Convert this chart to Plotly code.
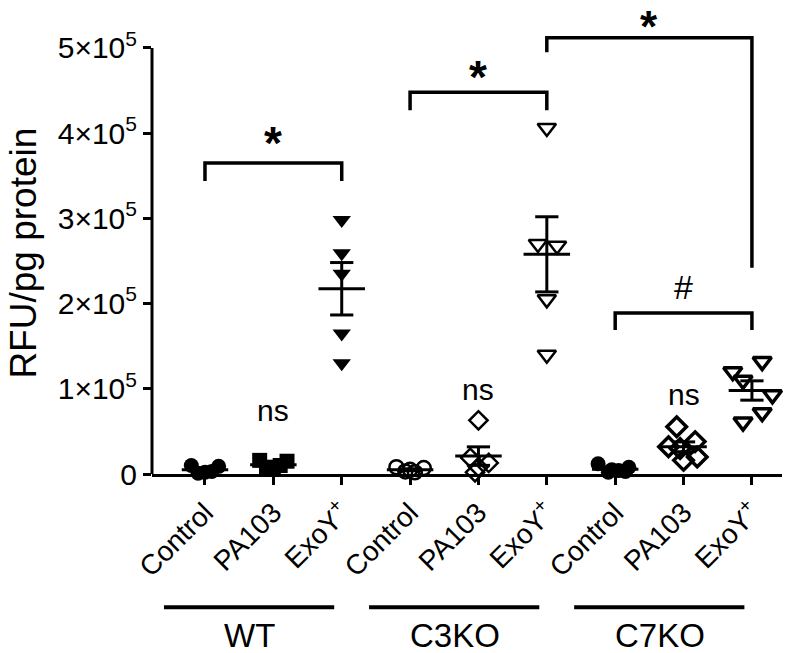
import numpy as np
import plotly.graph_objects as go

# ---------------- data ----------------
categories = ["Control", "PA103", "ExoY<sup>+</sup>"] * 3
groups = ["WT", "C3KO", "C7KO"]
y_tick_vals = [0, 100000, 200000, 300000, 400000, 500000]
y_tick_text = ["0", "1×10<sup>5</sup>", "2×10<sup>5</sup>", "3×10<sup>5</sup>",
               "4×10<sup>5</sup>", "5×10<sup>5</sup>"]

wt_control = [10000, 9000, 2000, 1000, 3000]
wt_pa103 = [16000, 15000, 8000, 6000, 10000]
wt_exoy = [298000, 259000, 235000, 165000, 130000]
c3_control = [8000, 7000, 3000, 2000, 5000]
c3_pa103 = [63000, 19000, 13000, 8000, 2000]
c3_exoy = [406000, 270000, 268000, 205000, 140000]
c7_control = [12000, 8000, 4000, 2000, 3000, 5000]
c7_pa103 = [55500, 38000, 32000, 30000, 20000, 16000]
c7_exoy = [132000, 120000, 110000, 93000, 72000, 61000]

series = [wt_control, wt_pa103, wt_exoy,
          c3_control, c3_pa103, c3_exoy,
          c7_control, c7_pa103, c7_exoy]

# ---------------- style ----------------
jitter = [
    [-0.2, 0.2, 0.0, -0.1, 0.1],
    [-0.2, 0.2, 0.0, -0.1, 0.1],
    [0, 0, 0, 0, 0],
    [-0.2, 0.2, -0.07, 0.07, 0.0],
    [0, -0.12, 0.15, 0.0, -0.05],
    [0, -0.13, 0.15, 0, 0],
    [-0.25, 0.2, 0.05, -0.1, 0.15, -0.05],
    [-0.1, 0.17, -0.22, -0.05, 0.2, 0.0],
    [0.15, -0.28, -0.13, 0.3, 0.15, -0.13],
]
symbols = ["circle", "square", "triangle-down",
           "circle-open", "diamond-open", "triangle-down-open",
           "circle", "diamond-open", "triangle-down-open"]
line_w = [0, 0, 0, 2.5, 2.5, 2.5, 0, 3.5, 3.5]
sizes = [15, 15, 16, 14, 14, 16, 15, 15, 16]

FONT = "Liberation Sans, Arial, sans-serif"
BLACK = "#000000"

fig = go.Figure()

for i, vals in enumerate(series):
    xs = [i + j for j in jitter[i]]
    fig.add_trace(go.Scatter(
        x=xs, y=vals, mode="markers", cliponaxis=False,
        marker=dict(symbol=symbols[i], size=sizes[i], color=BLACK,
                    line=dict(color=BLACK, width=line_w[i])),
        showlegend=False, hoverinfo="skip"))

shapes = []
LW = 3
for i, vals in enumerate(series):
    v = np.array(vals, dtype=float)
    m = v.mean()
    sem = v.std(ddof=1) / np.sqrt(len(v))
    shapes.append(dict(type="line", xref="x", yref="y", x0=i - 0.34, x1=i + 0.34,
                       y0=m, y1=m, line=dict(color=BLACK, width=LW)))
    shapes.append(dict(type="line", xref="x", yref="y", x0=i, x1=i,
                       y0=m - sem, y1=m + sem, line=dict(color=BLACK, width=LW)))
    for yy in (m - sem, m + sem):
        shapes.append(dict(type="line", xref="x", yref="y", x0=i - 0.17, x1=i + 0.17,
                           y0=yy, y1=yy, line=dict(color=BLACK, width=LW)))

# significance brackets: (x_left, x_right, y_top, y_leg_left, y_leg_right)
brackets = [
    (0, 2, 365000, 344000, 344000),
    (3, 5, 448000, 427000, 427000),
    (5, 8, 512000, 495000, 242000),
    (6, 8, 189000, 169000, 169000),
]
BW = 3.5
for xl, xr, yt, yl, yr in brackets:
    shapes.append(dict(type="path", xref="x", yref="y",
                       path=f"M {xl},{yl} L {xl},{yt} L {xr},{yt} L {xr},{yr}",
                       line=dict(color=BLACK, width=BW)))

# y axis line drawn from 0 to 5e5
shapes.append(dict(type="line", xref="paper", yref="y", x0=0, x1=0, y0=0, y1=500000,
                   line=dict(color=BLACK, width=3)))

# group underlines
for g in range(3):
    shapes.append(dict(type="line", xref="x", yref="paper",
                       x0=3 * g - 0.6, x1=3 * g + 2 - 0.11, y0=-0.281, y1=-0.281,
                       line=dict(color=BLACK, width=4)))

annotations = []
for x, y in [(1, 399000), (4, 477000)]:
    annotations.append(dict(x=x, y=y, xref="x", yref="y", text="<b>*</b>",
                            showarrow=False, font=dict(family=FONT, size=46, color=BLACK),
                            yanchor="middle", yshift=-9))
annotations.append(dict(x=6.5, y=1, xref="x", yref="paper", text="<b>*</b>",
                        showarrow=False, font=dict(family=FONT, size=44, color=BLACK),
                        yanchor="top"))
annotations.append(dict(x=7, y=219000, xref="x", yref="y", text="#", showarrow=False,
                        font=dict(family=FONT, size=34, color=BLACK), yanchor="middle"))
for x, y in [(1, 75000), (4, 99000), (7, 93000)]:
    annotations.append(dict(x=x, y=y, xref="x", yref="y", text="ns", showarrow=False,
                            font=dict(family=FONT, size=30, color=BLACK), yanchor="middle"))
for g, name in enumerate(groups):
    annotations.append(dict(x=3 * g + 1 - 0.35, y=-0.340, xref="x", yref="paper", text=name,
                            showarrow=False, font=dict(family=FONT, size=33, color=BLACK),
                            yanchor="middle"))
annotations.append(dict(x=-0.204, y=0.466, xref="paper", yref="paper", text="RFU/pg protein",
                        textangle=-90, showarrow=False,
                        font=dict(family=FONT, size=37, color=BLACK),
                        xanchor="center", yanchor="middle"))

fig.update_layout(
    width=800, height=653,
    margin=dict(l=152, r=18, t=0, b=179),
    paper_bgcolor="white", plot_bgcolor="white",
    shapes=shapes, annotations=annotations,
    xaxis=dict(range=[-0.775, 8.44], tickmode="array", tickvals=list(range(9)),
               ticktext=categories, tickangle=-45, showline=True, linecolor=BLACK,
               linewidth=3, ticks="outside", ticklen=8, tickwidth=3, tickcolor=BLACK,
               showgrid=False, zeroline=False,
               tickfont=dict(family=FONT, size=28, color=BLACK)),
    yaxis=dict(range=[0, 556300], tickmode="array", tickvals=y_tick_vals,
               ticktext=y_tick_text, showline=False, ticks="outside", ticklen=8,
               tickwidth=3, tickcolor=BLACK, showgrid=False, zeroline=False,
               tickfont=dict(family=FONT, size=30, color=BLACK)),
)

fig.write_html("out.html", config={"displayModeBar": False},
               post_script="document.body.style.margin='0px';")
